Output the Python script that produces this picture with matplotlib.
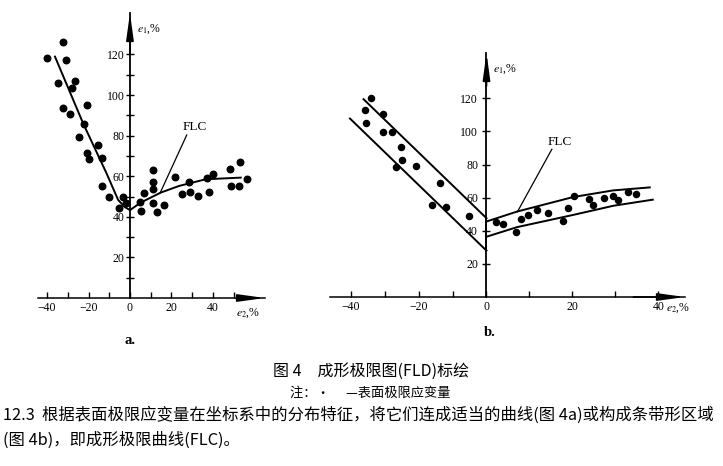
import numpy as np
import matplotlib
matplotlib.use('Agg')
import matplotlib.pyplot as plt

plt.rcParams['font.family'] = ['Liberation Serif', 'Noto Sans CJK SC', 'DejaVu Sans']
plt.rcParams['mathtext.fontset'] = 'stix'

# ---- data, figure 4a (e2 %, e1 %) ----
a_pts_x = [-40, -32.2, -31, -34.6, -26.5, -27.8, -32.2, -29.1, -20.9, -22.1,
           -24.6, -15.6, -20.9, -19.6, -13.7, -13.7, -10.1, -3.5, -1.9, -5.4,
           5.5, 4.8, 6.8, 11.3, 11.3, 11.3, 11.3, 12.9, 16.6, 21.6,
           25, 28.5, 29, 33, 38.2, 37.1, 40, 48.3, 53.2, 49, 52.7, 56.7]
a_pts_y = [118.4, 126, 117.4, 105.7, 107, 103.3, 93.7, 90.5, 95, 85.5,
           79.1, 75.2, 71.3, 68.3, 69.1, 55.3, 49.6, 49.8, 46.6, 44.2,
           42.9, 47.4, 51.7, 63, 57, 53.5, 46.6, 42.2, 45.8, 59.8,
           51.4, 57, 52.4, 50.2, 52.4, 59, 61.2, 63.5, 67.1, 55.3, 55, 58.5]
a_flc_x = [-36.2, -22.6, -11.3, -5.7, -2.5, 0, 5.2, 14.8, 23.7, 36.6, 53.5]
a_flc_y = [118.9, 86, 61.4, 48.3, 44.8, 43.3, 47, 51.9, 55.2, 58.5, 59.3]

# ---- data, figure 4b ----
b_pts_x = [-34.1, -35.8, -30.6, -35.6, -30.6, -27.9, -25.2, -25, -26.7, -20.7,
           -13.6, -16, -11.9, -5.2, 2.1, 3.9, 6.9, 8, 9.6, 11.8,
           14.4, 17.9, 18.9, 20.4, 23.9, 24.8, 27.4, 29.5, 30.5, 33, 34.8]
b_pts_y = [120, 113, 110.4, 105.4, 99.7, 99.9, 90.8, 83, 78.6, 79.4,
           68.9, 55.7, 54.3, 49, 45.2, 44.2, 39.5, 47, 49.8, 52.3,
           51, 46, 53.7, 61.2, 59.4, 55.7, 59.8, 60.8, 58.3, 63.4, 62.4]
b_left_upper_x = [-36.3, 0]
b_left_upper_y = [119.5, 47.6]
b_left_lower_x = [-40.3, 0]
b_left_lower_y = [107.8, 28]
b_right_upper_x = [0, 7.1, 20.2, 29.5, 38]
b_right_upper_y = [45.6, 51.6, 60.4, 64.4, 66.2]
b_right_lower_x = [0, 7.1, 20.2, 29.5, 38.7]
b_right_lower_y = [36.4, 42.2, 49.6, 55.1, 58.8]

x_major = [-40, -20, 0, 20, 40]
x_major_labels = ['−40', '−20', '0', '20', '40']
y_major = [20, 40, 60, 80, 100, 120]

cjk = ['Noto Sans CJK SC', 'DejaVu Sans']

fig = plt.figure(figsize=(7.23, 4.66), dpi=100)


def axis_cross(ax, xmax, ymax, ylab, xlab, xlab_pos, ylab_pos):
    for s in ['top', 'right']:
        ax.spines[s].set_visible(False)
    ax.spines['left'].set_position(('data', 0))
    ax.spines['bottom'].set_position(('data', 0))
    ax.spines['left'].set_linewidth(1.3)
    ax.spines['bottom'].set_linewidth(1.1)
    ax.patch.set_alpha(0)
    arrow = dict(arrowstyle='-|>,head_length=1.6,head_width=0.22', color='black',
                 lw=1.2, shrinkA=0, shrinkB=0)
    ax.annotate('', xy=(0, ymax), xytext=(0, ymax - 20), arrowprops=arrow,
                annotation_clip=False)
    ax.annotate('', xy=(xmax, 0), xytext=(xmax - 12, 0), arrowprops=arrow,
                annotation_clip=False)
    ax.text(*ylab_pos, ylab, fontsize=8.5, ha='left', va='center', clip_on=False)
    ax.text(*xlab_pos, xlab, fontsize=8.5, ha='center', va='center', clip_on=False)


# ---------- panel a ----------
axa = fig.add_axes([38 / 723, 168 / 466, 227 / 723, 285 / 466])
axa.set_xlim(-44.4, 65.2)
axa.set_ylim(0, 140.4)
axis_cross(axa, 65.2, 140.4, r'$e_1$,%', r'$e_2$,%', (57, -7.4), (3.4, 132.5))
axa.set_xticks(x_major)
axa.set_xticklabels(x_major_labels)
axa.set_xticks([-30, -10, 10, 30, 50], minor=True)
axa.set_yticks(y_major)
axa.set_yticks([10, 30, 50, 70, 90, 110], minor=True)
axa.tick_params(axis='x', which='both', direction='in', length=4, width=1,
                labelsize=8.5, pad=3)
axa.tick_params(axis='y', which='both', direction='inout', length=6, width=1,
                labelsize=8.5, pad=1)
axa.plot(a_flc_x, a_flc_y, color='black', lw=1.4)
axa.plot(a_pts_x, a_pts_y, 'o', color='black', ms=4.7)
axa.plot([27.4, 14.5], [80.3, 51.6], color='black', lw=0.9)
axa.text(31.4, 84.2, 'FLC', fontsize=9.5, ha='center', va='center')

# ---------- panel b ----------
k = 3.39 / 4.3


def fwd(x):
    x = np.asarray(x, dtype=float)
    return np.where(x < 0, x * k, x)


def inv(y):
    y = np.asarray(y, dtype=float)
    return np.where(y < 0, y / k, y)


axb = fig.add_axes([330 / 723, 169 / 466, 355 / 723, 244 / 466])
axb.set_xscale('function', functions=(fwd, inv))
axb.set_xlim(-46.2, 46.2)
axb.set_ylim(0, 147.4)
axis_cross(axb, 46.2, 147.4, r'$e_1$,%', r'$e_2$,%', (44.7, -6.6), (1.5, 137.8))
axb.set_xticks(x_major)
axb.set_xticklabels(x_major_labels)
axb.set_xticks([-30, -10, 10, 30], minor=True)
axb.set_yticks(y_major)
axb.set_yticks([], minor=True)
axb.tick_params(axis='x', which='both', direction='in', length=4, width=1,
                labelsize=8.5, pad=3)
axb.tick_params(axis='y', which='both', direction='inout', length=6, width=1,
                labelsize=8.5, pad=3)
for xs, ys in [(b_left_upper_x, b_left_upper_y), (b_left_lower_x, b_left_lower_y),
               (b_right_upper_x, b_right_upper_y), (b_right_lower_x, b_right_lower_y)]:
    axb.plot(xs, ys, color='black', lw=1.4)
axb.plot([0, 0], [28, 47.6], color='black', lw=1.4)
axb.plot(b_pts_x, b_pts_y, 'o', color='black', ms=4.4)
axb.plot([15.2, 7.2], [89.2, 51.5], color='black', lw=0.9)
axb.text(17.1, 93.8, 'FLC', fontsize=9.5, ha='center', va='center')

# panel letters
fig.text(130 / 723, 1 - 340 / 466, 'a.', fontsize=10.5, ha='center', va='center',
         fontweight='bold')
fig.text(490 / 723, 1 - 333 / 466, 'b.', fontsize=10.5, ha='center', va='center',
         fontweight='bold')

# captions and body text
fig.text(371 / 723, 1 - 371 / 466, '图 4　成形极限图(FLD)标绘', fontsize=11.5,
         ha='center', va='center', family=cjk)
fig.text(370 / 723, 1 - 393 / 466, '注：·　 —表面极限应变量', fontsize=9.5,
         ha='center', va='center', family=cjk)
fig.text(3 / 723, 1 - 415 / 466,
         '12.3  根据表面极限应变量在坐标系中的分布特征，将它们连成适当的曲线(图 4a)或构成条带形区域',
         fontsize=11.75, ha='left', va='center', family=cjk)
fig.text(3 / 723, 1 - 440 / 466, '(图 4b)，即成形极限曲线(FLC)。', fontsize=11.75,
         ha='left', va='center', family=cjk)

fig.savefig('out.png', dpi=100)
